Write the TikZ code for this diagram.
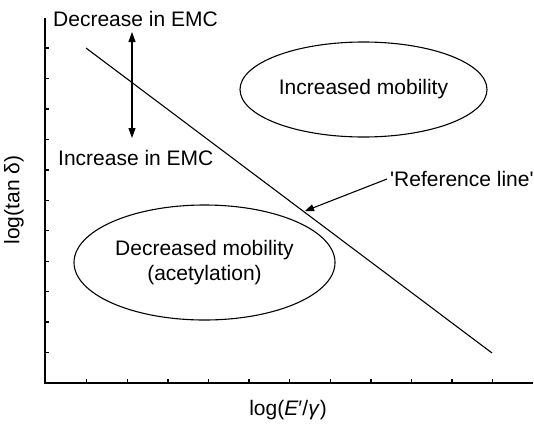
\documentclass[tikz,border=0pt]{standalone}
\usepackage{fontspec}
\setmainfont{Liberation Sans}
\usetikzlibrary{arrows.meta}
\begin{document}
\begin{tikzpicture}[x=1pt,y=-1pt,
  lbl/.style={font=\fontsize{21}{25}\selectfont, inner sep=0pt},
  axis/.style={line width=1.8pt},
  thin/.style={line width=1.1pt},
  tip/.style={-{Triangle[length=9pt,width=7pt]}}]
\useasboundingbox (0,0) rectangle (534,423);
% axes
\coordinate (o) at (45,383);
\coordinate (ytop) at (45,18);
\coordinate (xend) at (533,383);
\draw[axis] (ytop) -- (o) -- (xend);
\foreach \k in {1,...,11} \draw[line width=1.4pt] (45,{383-30.45*\k}) -- ++(4,0);
\foreach \k in {1,...,11} \draw[line width=1.4pt] ({46+40.6*\k},383) -- ++(0,-4);
% ellipses
\draw[thin] (363.5,89.5) ellipse [x radius=123.5, y radius=47.5];
\draw[thin] (204.5,262.5) ellipse [x radius=130.5, y radius=57.5];
\node[lbl] (inc) at (363.5,89.5) {Increased mobility};
\node[lbl, align=center] (dec) at (204.5,262.5) {Decreased mobility\\(acetylation)};
% reference line
\coordinate (r1) at (86,48);
\coordinate (r2) at (492,353);
\draw[thin] (r1) -- (r2);
\node[lbl, anchor=west] (ref) at (390,179) {\textquotesingle Reference line\textquotesingle};
\coordinate (reftip) at (305,211);
\draw[thin, tip] ([xshift=-3pt]ref.west) -- (reftip);
% EMC arrow
\node[lbl, anchor=west] (decemc) at (53,19) {Decrease in EMC};
\node[lbl, anchor=west] (incemc) at (58,158) {Increase in EMC};
\coordinate (a1) at (132,32);
\coordinate (a2) at (132,138);
\draw[thin, {Triangle[length=10pt,width=7pt]}-{Triangle[length=10pt,width=7pt]}] (a1) -- (a2);
% axis labels
\node[lbl, rotate=90] (ylab) at (14,200) {log(tan δ)};
\node[lbl] (xlab) at (288,410) {log(\textit{E}′/\textit{γ})};
\end{tikzpicture}
\end{document}
